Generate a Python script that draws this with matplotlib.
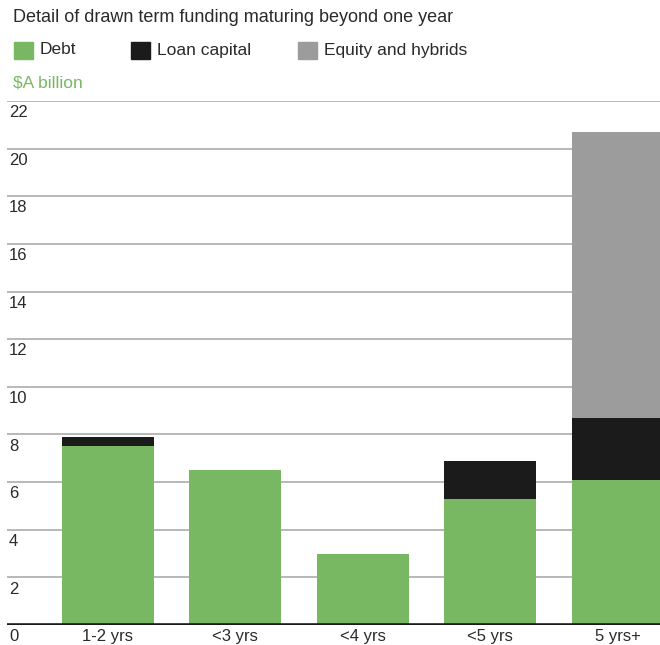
import matplotlib
matplotlib.use("Agg")
import matplotlib.pyplot as plt
import matplotlib.transforms as mtransforms
from matplotlib.patches import Rectangle

plt.rcParams["font.family"] = ["Liberation Sans", "DejaVu Sans"]

# Data ($A billion)
categories = ["1-2 yrs", "<3 yrs", "<4 yrs", "<5 yrs", "5 yrs+"]
debt = [7.5, 6.5, 3.0, 5.3, 6.1]
loan_capital = [0.4, 0.0, 0.0, 1.6, 2.6]
equity_hybrids = [0.0, 0.0, 0.0, 0.0, 12.0]
y_ticks = [0, 2, 4, 6, 8, 10, 12, 14, 16, 18, 20, 22]

GREEN = "#78b862"
BLACK = "#1b1b1b"
GREY = "#9c9c9c"
GRID = "#b8b8b8"
TEXT = "#2a2a2a"

fig = plt.figure(figsize=(6.6, 6.45), dpi=100)
ax = fig.add_axes([7 / 660, 1 - 625 / 645, 1 - 7 / 660, (625 - 101) / 645])

x = list(range(len(categories)))
w = 0.72
ax.bar(x, debt, width=w, color=GREEN, zorder=3)
ax.bar(x, loan_capital, width=w, bottom=debt, color=BLACK, zorder=3)
base2 = [d + l for d, l in zip(debt, loan_capital)]
ax.bar(x, equity_hybrids, width=w, bottom=base2, color=GREY, zorder=3)

ax.set_xlim(-0.79, 4.33)
ax.set_ylim(0, 22)
for s in ax.spines.values():
    s.set_visible(False)
ax.set_xticks([])
ax.set_yticks([])

for t in y_ticks[1:]:
    ax.axhline(t, color=GRID, lw=1.4, zorder=1)
ax.axhline(0, color=BLACK, lw=2.6, zorder=4)

# y labels sit just below their gridlines, at the left
trans = mtransforms.blended_transform_factory(ax.transAxes, ax.transData)
off = mtransforms.ScaledTranslation(0, -3 / 72, fig.dpi_scale_trans)
for t in y_ticks:
    ax.text(2 / 653, t, str(t), transform=trans + off, ha="left", va="top",
            fontsize=12, color=TEXT, clip_on=False)

for xi, c in zip(x, categories):
    ax.text(xi, 0, c, transform=ax.transData + off, ha="center", va="top",
            fontsize=12, color=TEXT, clip_on=False)

# title and legend
fig.text(13 / 660, 1 - 18 / 645, "Detail of drawn term funding maturing beyond one year",
         ha="left", va="center", fontsize=13, color=TEXT)
legend_items = [("Debt", GREEN, 14), ("Loan capital", BLACK, 131), ("Equity and hybrids", GREY, 298)]
for label, col, px in legend_items:
    fig.patches.append(Rectangle((px / 660, 1 - 59 / 645), 19 / 660, 17 / 645,
                                 transform=fig.transFigure, color=col))
    fig.text((px + 26) / 660, 1 - 50 / 645, label, ha="left", va="center",
             fontsize=12.5, color=TEXT)
fig.text(13 / 660, 1 - 83 / 645, "$A billion", ha="left", va="center",
         fontsize=12.5, color=GREEN)

fig.savefig("out.png", dpi=100)
